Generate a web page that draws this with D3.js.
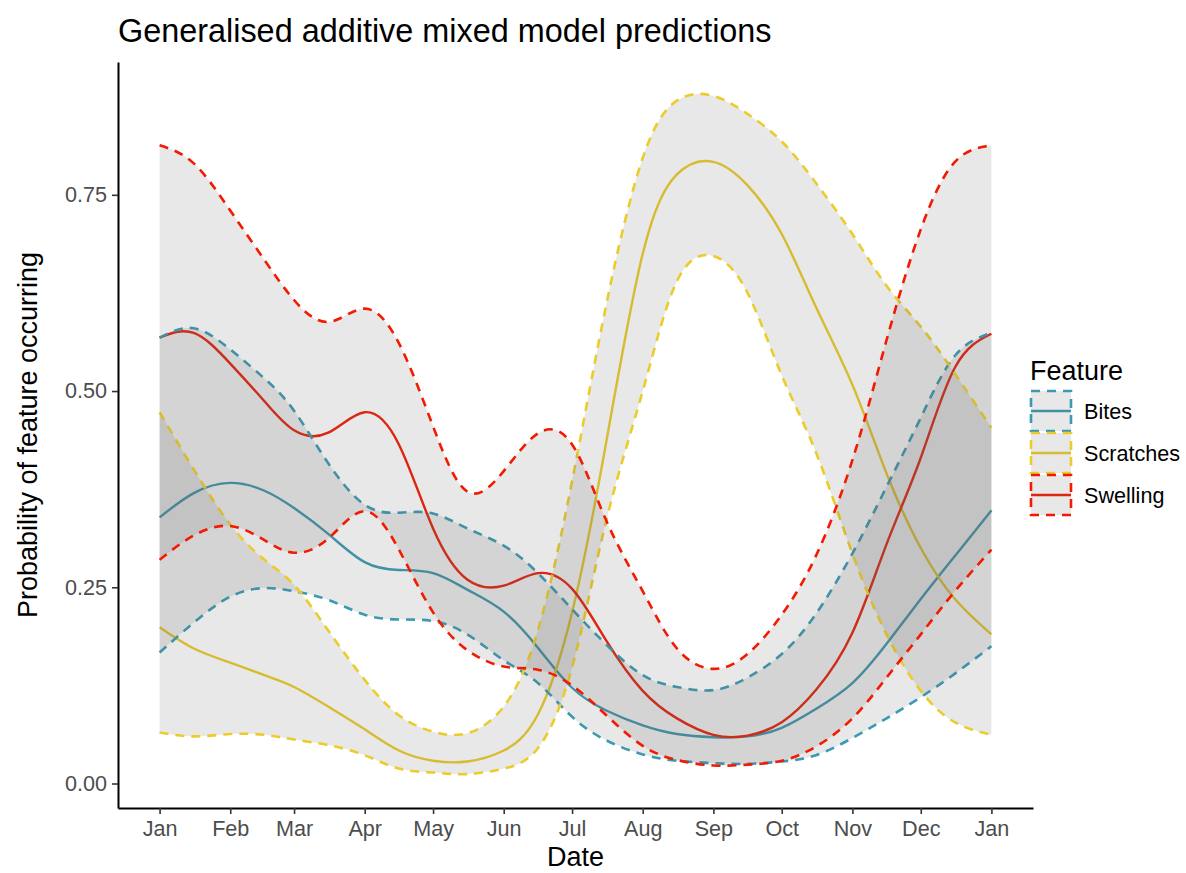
<!DOCTYPE html>
<html>
<head>
<meta charset="utf-8">
<script src="https://cdn.jsdelivr.net/npm/d3@7"></script>
<style>
  body { margin: 0; background: #fff; }
  text { font-family: "Liberation Sans", Arial, sans-serif; }
</style>
</head>
<body>
<div id="chart"></div>
<script>
// Prediction dates (1st and 16th of each month)
const dates = ['2021-01-01', '2021-01-16', '2021-02-01', '2021-02-16', '2021-03-01', '2021-03-16',
    '2021-04-01', '2021-04-16', '2021-05-01', '2021-05-16', '2021-06-01', '2021-06-16',
    '2021-07-01', '2021-07-16', '2021-08-01', '2021-08-16', '2021-09-01', '2021-09-16',
    '2021-10-01', '2021-10-16', '2021-11-01', '2021-11-16', '2021-12-01', '2021-12-16', '2022-01-01']

const features = ['Bites', 'Scratches', 'Swelling']
const colors = ['#3B9AB2', '#EBCC2A', '#F21A00']

// fitted probabilities and 95% interval
const bitesFit = [0.339, 0.370, 0.383, 0.373, 0.351, 0.318, 0.282, 0.272, 0.268, 0.247, 0.219, 0.173,
    0.122, 0.093, 0.074, 0.063, 0.059, 0.060, 0.071, 0.095, 0.128, 0.178, 0.235, 0.290, 0.348]
const bitesLower = [0.167, 0.205, 0.238, 0.249, 0.245, 0.234, 0.215, 0.209, 0.207, 0.190, 0.157, 0.128,
    0.085, 0.055, 0.037, 0.029, 0.026, 0.025, 0.028, 0.036, 0.058, 0.083, 0.110, 0.140, 0.175]
const bitesUpper = [0.568, 0.580, 0.553, 0.516, 0.475, 0.408, 0.355, 0.345, 0.344, 0.325, 0.303, 0.268,
    0.222, 0.177, 0.138, 0.123, 0.119, 0.135, 0.165, 0.216, 0.293, 0.378, 0.466, 0.545, 0.574]

const scratchesFit = [0.199, 0.172, 0.154, 0.138, 0.123, 0.098, 0.069, 0.042, 0.029, 0.028, 0.042, 0.088,
    0.218, 0.435, 0.675, 0.776, 0.792, 0.762, 0.700, 0.607, 0.508, 0.395, 0.300, 0.235, 0.190]
const scratchesLower = [0.065, 0.060, 0.063, 0.062, 0.056, 0.049, 0.036, 0.019, 0.014, 0.012, 0.019, 0.045,
    0.148, 0.335, 0.500, 0.640, 0.672, 0.625, 0.520, 0.422, 0.293, 0.190, 0.118, 0.078, 0.062]
const scratchesUpper = [0.473, 0.400, 0.330, 0.285, 0.253, 0.195, 0.132, 0.087, 0.066, 0.064, 0.098, 0.195,
    0.385, 0.610, 0.797, 0.870, 0.876, 0.853, 0.818, 0.765, 0.700, 0.634, 0.582, 0.522, 0.453]

const swellingFit = [0.568, 0.574, 0.535, 0.487, 0.450, 0.447, 0.473, 0.432, 0.325, 0.260, 0.252, 0.268,
    0.248, 0.182, 0.118, 0.083, 0.062, 0.061, 0.078, 0.119, 0.192, 0.305, 0.415, 0.530, 0.573]
const swellingLower = [0.285, 0.316, 0.328, 0.310, 0.294, 0.312, 0.347, 0.298, 0.218, 0.170, 0.149, 0.145,
    0.125, 0.087, 0.048, 0.030, 0.023, 0.024, 0.029, 0.047, 0.083, 0.135, 0.190, 0.245, 0.298]
const swellingUpper = [0.813, 0.790, 0.730, 0.667, 0.616, 0.588, 0.605, 0.561, 0.455, 0.372, 0.398, 0.446,
    0.432, 0.335, 0.245, 0.172, 0.146, 0.165, 0.215, 0.290, 0.412, 0.565, 0.706, 0.792, 0.813]

const fits = [bitesFit, scratchesFit, swellingFit]
const lowers = [bitesLower, scratchesLower, swellingLower]
const uppers = [bitesUpper, scratchesUpper, swellingUpper]

const parse = d3.utcParse('%Y-%m-%d')

// one record per feature
const series = features.map((f, k) => ({
    feature: f,
    color: colors[k],
    values: dates.map((d, i) => ({
        date: parse(d),
        fit: fits[k][i],
        lo: lowers[k][i],
        hi: uppers[k][i]
    }))
}))

const width = 1186
const height = 873
const margin = { top: 62, right: 153, bottom: 65, left: 118 }
const base = 27

const svg = d3.select('#chart')
    .append('svg')
    .attr('width', width)
    .attr('height', height)

// scales, expanded by 5% like ggplot
const xExtent = d3.extent(dates, parse)
const xPad = (xExtent[1] - xExtent[0]) * 0.05
const x = d3.scaleUtc()
    .domain([new Date(+xExtent[0] - xPad), new Date(+xExtent[1] + xPad)])
    .range([margin.left, width - margin.right])

const yMin = d3.min(lowers.flat())
const yMax = d3.max(uppers.flat())
const yPad = (yMax - yMin) * 0.05
const y = d3.scaleLinear()
    .domain([yMin - yPad, yMax + yPad])
    .range([height - margin.bottom, margin.top])

const curve = d3.curveNatural

const fitLine = d3.line()
    .x(d => x(d.date))
    .y(d => y(d.fit))
    .curve(curve)

const ribbon = d3.area()
    .x(d => x(d.date))
    .y0(d => y(d.lo))
    .y1(d => y(d.hi))
    .curve(curve)

const edge = key => d3.line()
    .x(d => x(d.date))
    .y(d => y(d[key]))
    .curve(curve)

// fitted lines go first, ribbons sit on top of them
svg.append('g')
    .selectAll('path')
    .data(series)
    .join('path')
    .attr('d', d => fitLine(d.values))
    .attr('fill', 'none')
    .attr('stroke', d => d.color)
    .attr('stroke-width', 2.4)

const ribbons = svg.append('g')
    .selectAll('g')
    .data(series)
    .join('g')

ribbons.append('path')
    .attr('d', d => ribbon(d.values))
    .attr('fill', '#666666')
    .attr('fill-opacity', 0.15)

ribbons.selectAll('.edge')
    .data(d => ['lo', 'hi'].map(k => ({ k, s: d })))
    .join('path')
    .attr('class', 'edge')
    .attr('d', e => edge(e.k)(e.s.values))
    .attr('fill', 'none')
    .attr('stroke', e => e.s.color)
    .attr('stroke-width', 2.6)
    .attr('stroke-dasharray', '9,7')

// axes
const xAxis = d3.axisBottom(x)
    .tickValues(d3.utcMonth.range(xExtent[0], d3.utcDay.offset(xExtent[1], 1)))
    .tickFormat(d3.utcFormat('%b'))
    .tickSize(6)
    .tickSizeOuter(0)
    .tickPadding(7)

const yAxis = d3.axisLeft(y)
    .tickValues([0, 0.25, 0.5, 0.75])
    .tickFormat(d3.format('.2f'))
    .tickSize(6)
    .tickSizeOuter(0)
    .tickPadding(5)

const gx = svg.append('g')
    .attr('transform', `translate(0,${height - margin.bottom})`)
    .call(xAxis)
const gy = svg.append('g')
    .attr('transform', `translate(${margin.left},0)`)
    .call(yAxis)

for (const g of [gx, gy]) {
    g.select('.domain').attr('stroke', '#000').attr('stroke-width', 2)
    g.selectAll('.tick line').attr('stroke', '#333').attr('stroke-width', 1.6)
    g.selectAll('.tick text')
        .attr('fill', '#4D4D4D')
        .style('font-size', (base * 0.8) + 'px')
        .style('font-family', '"Liberation Sans", Arial, sans-serif')
}

// titles
svg.append('text')
    .attr('x', margin.left)
    .attr('y', 42)
    .style('font-size', (base * 1.2) + 'px')
    .text('Generalised additive mixed model predictions')

svg.append('text')
    .attr('x', (margin.left + width - margin.right) / 2)
    .attr('y', 866)
    .attr('text-anchor', 'middle')
    .style('font-size', base + 'px')
    .text('Date')

svg.append('text')
    .attr('transform', `translate(37,${(margin.top + height - margin.bottom) / 2}) rotate(-90)`)
    .attr('text-anchor', 'middle')
    .style('font-size', base + 'px')
    .text('Probability of feature occurring')

// legend
const legend = svg.append('g')
    .attr('transform', 'translate(1030,390)')

legend.append('text')
    .attr('x', 0)
    .attr('y', -10)
    .style('font-size', base + 'px')
    .text('Feature')

const keySize = 42
const keys = legend.selectAll('g')
    .data(series)
    .join('g')
    .attr('transform', (d, i) => `translate(0,${i * keySize})`)

keys.append('line')
    .attr('x1', 1).attr('x2', keySize - 1)
    .attr('y1', keySize / 2).attr('y2', keySize / 2)
    .attr('stroke', d => d.color)
    .attr('stroke-width', 2.4)

keys.append('rect')
    .attr('x', 1).attr('y', 1)
    .attr('width', keySize - 2).attr('height', keySize - 2)
    .attr('fill', '#666666')
    .attr('fill-opacity', 0.15)
    .attr('stroke', d => d.color)
    .attr('stroke-width', 2.6)
    .attr('stroke-dasharray', '9,7')

keys.append('text')
    .attr('x', keySize + 12)
    .attr('y', keySize / 2)
    .attr('dy', '0.35em')
    .style('font-size', (base * 0.8) + 'px')
    .text(d => d.feature)
</script>
</body>
</html>
